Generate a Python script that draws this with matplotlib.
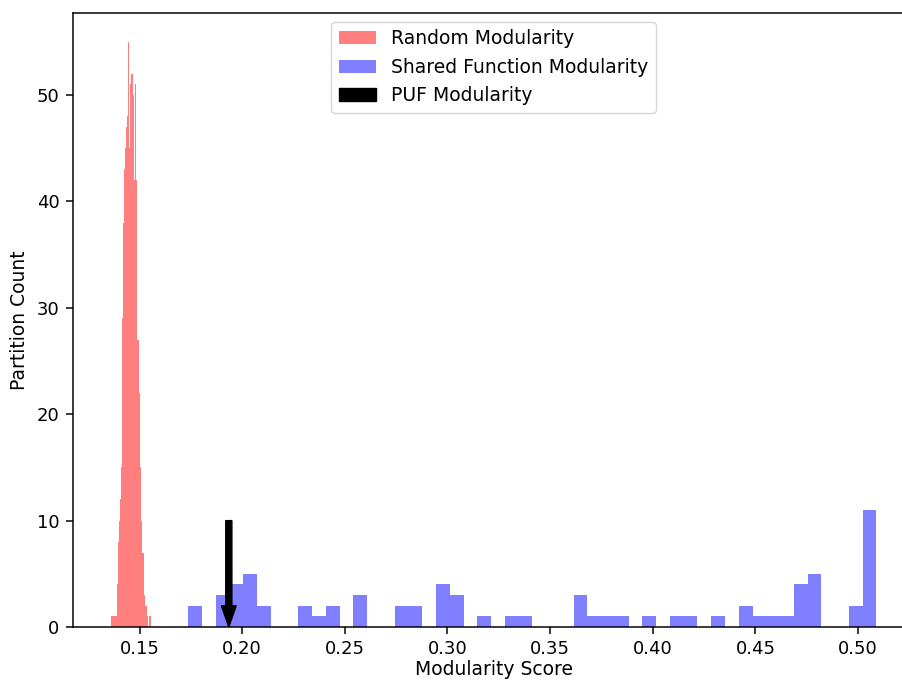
import numpy as np
import matplotlib
matplotlib.use("Agg")
import matplotlib.pyplot as plt

# random partition modularity histogram (bin counts, 40 bins of 0.0005 from 0.1361)
random_start = 0.1361
random_binw = 0.0005
random_counts = [1, 1, 1, 1, 1, 1, 4, 8, 10, 12,
                 15, 29, 38, 43, 45, 47, 48, 55, 45, 51,
                 52, 50, 42, 51, 42, 27, 27, 22, 15, 10,
                 7, 7, 3, 2, 2, 1, 0, 1, 1, 0]

# shared function modularity histogram (50 bins)
shared_lo = 0.1738
shared_hi = 0.5089
shared_counts = [2, 0, 3, 4, 5, 2, 0, 0, 2, 1,
                 2, 0, 3, 0, 0, 2, 2, 0, 4, 3,
                 0, 1, 0, 1, 1, 0, 0, 0, 3, 1,
                 1, 1, 0, 1, 0, 1, 1, 0, 1, 0,
                 2, 1, 1, 1, 4, 5, 0, 0, 2, 11]

puf_score = 0.1935
arrow_len = 10

# original looks like a 10pt figure scaled up ~1.35x
s = 1.35
plt.rcParams.update({
    'axes.linewidth': 0.8 * s,
    'xtick.major.size': 3.5 * s, 'ytick.major.size': 3.5 * s,
    'xtick.major.width': 0.8 * s, 'ytick.major.width': 0.8 * s,
    'xtick.major.pad': 3.5 * s, 'ytick.major.pad': 3.5 * s,
    'axes.labelpad': 4.0 * s,
})

random_edges = random_start + random_binw * np.arange(len(random_counts) + 1)
shared_edges = np.linspace(shared_lo, shared_hi, len(shared_counts) + 1)

fig = plt.figure(figsize=(9.03, 6.82), dpi=100)
ax = fig.add_axes([0.0805, 0.0806, 0.9324, 0.901])

ax.hist((random_edges[:-1] + random_edges[1:]) / 2, bins=random_edges,
        weights=random_counts, color='red', alpha=0.5, label='Random Modularity')
ax.hist((shared_edges[:-1] + shared_edges[1:]) / 2, bins=shared_edges,
        weights=shared_counts, color='blue', alpha=0.5, label='Shared Function Modularity')
ax.arrow(puf_score, arrow_len, 0, -arrow_len, width=0.003, head_width=0.0072,
         head_length=2, length_includes_head=True, color='black', label='PUF Modularity')

ax.set_xticks([0.15, 0.20, 0.25, 0.30, 0.35, 0.40, 0.45, 0.50])
ax.tick_params(labelsize=13)
# keep the x label just inside the bottom edge
ax.set_xlabel('Modularity Score', fontsize=13.5, labelpad=1)
ax.set_ylabel('Partition Count', fontsize=13.5)
ax.legend(loc='upper center', fontsize=13.5)

fig.savefig('out.png', dpi=100)
